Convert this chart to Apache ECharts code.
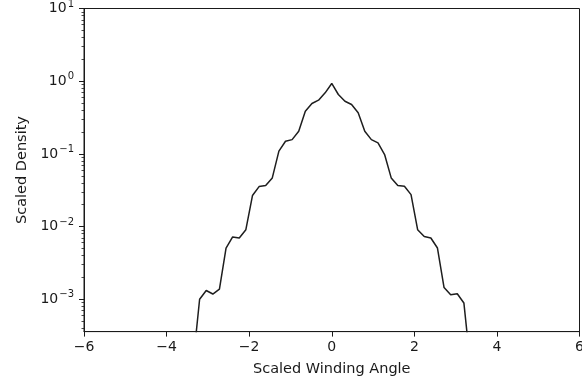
<!DOCTYPE html>
<html>
<head>
<meta charset="utf-8">
<style>
  html, body { margin: 0; padding: 0; background: #fff; }
  #chart { width: 582px; height: 379px; }
</style>
<script src="https://cdn.jsdelivr.net/npm/echarts@6/dist/echarts.min.js"></script>
</head>
<body>
<div id="chart"></div>
<script>
// Scaled winding angle (bin centres) and the scaled density in each bin
const windingAngle = [
  -3.36, -3.20, -3.04, -2.88, -2.72, -2.56, -2.40, -2.24, -2.08, -1.92, -1.76,
  -1.60, -1.44, -1.28, -1.12, -0.96, -0.80, -0.64, -0.48, -0.32, -0.16, 0.00,
  0.16, 0.32, 0.48, 0.64, 0.80, 0.96, 1.12, 1.28, 1.44, 1.60, 1.76,
  1.92, 2.08, 2.24, 2.40, 2.56, 2.72, 2.88, 3.04, 3.20, 3.36
];
const density = [
  0.00013, 0.00100, 0.00132, 0.00118, 0.00138, 0.00507, 0.00720, 0.00697, 0.00906, 0.0267, 0.0355,
  0.0366, 0.0467, 0.109, 0.149, 0.157, 0.205, 0.386, 0.493, 0.548, 0.692, 0.93,
  0.656, 0.530, 0.478, 0.367, 0.205, 0.157, 0.142, 0.098, 0.0467, 0.0366, 0.0358,
  0.0275, 0.00906, 0.00730, 0.00697, 0.00507, 0.00145, 0.00115, 0.00119, 0.00089, 0.00012
];

// Axis ticks
const xTicks = [-6, -4, -2, 0, 2, 4, 6];
const yMajorTicks = [1e-3, 1e-2, 1e-1, 1, 10];
const yMinorTicks = [
  4e-4, 5e-4, 6e-4, 7e-4, 8e-4, 9e-4,
  2e-3, 3e-3, 4e-3, 5e-3, 6e-3, 7e-3, 8e-3, 9e-3,
  2e-2, 3e-2, 4e-2, 5e-2, 6e-2, 7e-2, 8e-2, 9e-2,
  0.2, 0.3, 0.4, 0.5, 0.6, 0.7, 0.8, 0.9,
  2, 3, 4, 5, 6, 7, 8, 9
];
const yMin = 3.59e-4;
const yMax = 10;

function powerLabel(v) {
  const e = Math.round(Math.log10(v));
  const s = String(e).replace('-', '−');
  return '{b|10}{s|' + s + '}';
}

const ink = '#1a1a1a';
const fontFamily = 'DejaVu Sans';

const chart = echarts.init(document.getElementById('chart'), null, { renderer: 'canvas' });

chart.setOption({
  animation: false,
  backgroundColor: '#ffffff',
  grid: {
    left: 84, right: 2.5, top: 8.5, bottom: 47.4,
    outerBoundsMode: 'none',
    containLabel: false,
    show: true, borderColor: ink, borderWidth: 1, backgroundColor: 'transparent'
  },
  xAxis: {
    type: 'value',
    min: -6, max: 6, interval: 2,
    name: 'Scaled Winding Angle',
    nameLocation: 'middle',
    nameGap: 30,
    nameTextStyle: { fontFamily: fontFamily, fontSize: 14.5, color: ink },
    axisLine: { show: true, onZero: false, lineStyle: { color: ink, width: 1 } },
    axisTick: { show: true, inside: false, length: 5, lineStyle: { color: ink, width: 1 },
                customValues: xTicks },
    axisLabel: {
      show: true, margin: 9, fontFamily: fontFamily, fontSize: 14, color: ink,
      customValues: xTicks,
      hideOverlap: false,
      formatter: v => (v < 0 ? '−' + Math.abs(v) : String(v))
    },
    splitLine: { show: false }
  },
  yAxis: [
    {
      type: 'log', logBase: 10,
      min: yMin, max: yMax,
      name: 'Scaled Density',
      nameLocation: 'middle',
      nameGap: 54,
      nameTextStyle: { fontFamily: fontFamily, fontSize: 14.5, color: ink },
      axisLine: { show: true, onZero: false, lineStyle: { color: ink, width: 1 } },
      axisTick: { show: true, inside: false, length: 5, lineStyle: { color: ink, width: 1 },
                  customValues: yMajorTicks },
      axisLabel: {
        show: true, margin: 10, color: ink,
        customValues: yMajorTicks,
        formatter: v => powerLabel(v),
        rich: {
          b: { fontFamily: fontFamily, fontSize: 14, color: ink },
          s: { fontFamily: fontFamily, fontSize: 10, color: ink, padding: [0, 0, 9, 1] }
        }
      },
      splitLine: { show: false },
      minorTick: { show: false }
    },
    {
      // minor ticks at 2..9 × 10^n, placed in exponent space
      type: 'value',
      min: Math.log10(yMin), max: Math.log10(yMax),
      position: 'left',
      offset: 0,
      axisLine: { show: false, onZero: false },
      axisTick: { show: true, inside: false, length: 2.5, lineStyle: { color: ink, width: 0.8 },
                  customValues: yMinorTicks.map(v => Math.log10(v)) },
      axisLabel: { show: false },
      splitLine: { show: false }
    }
  ],
  series: [
    {
      type: 'line',
      data: windingAngle.map((x, i) => [x, density[i]]),
      yAxisIndex: 0,
      showSymbol: false,
      symbol: 'none',
      clip: true,
      lineStyle: { color: '#1e1e1e', width: 1.5 },
      z: 3
    }
  ]
});
</script>
</body>
</html>
